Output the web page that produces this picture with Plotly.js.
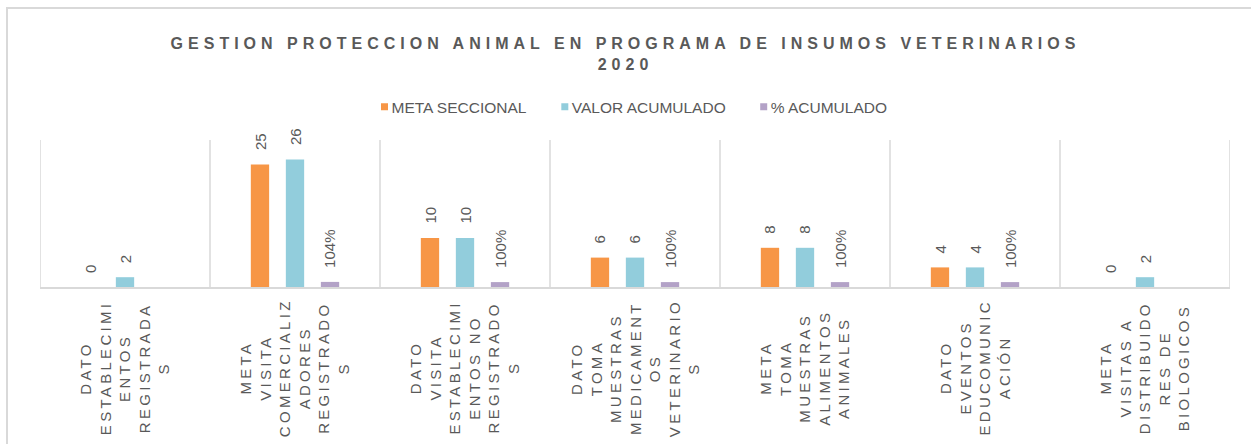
<!DOCTYPE html>
<html>
<head>
<meta charset="utf-8">
<script src="https://cdn.plot.ly/plotly-3.0.1.min.js"></script>
<style>
html,body{margin:0;padding:0;background:#fff;}
#wrap{position:relative;width:1251px;height:444px;overflow:hidden;}
#chart{position:absolute;left:0;top:0;width:1251px;height:444px;}
#frame{position:absolute;left:6px;top:7px;width:1400px;height:600px;border-top:2px solid #D9D9D9;border-left:2px solid #D9D9D9;pointer-events:none;}
.gtitle{letter-spacing:5px;}
.annotation[data-index="0"] text,.annotation[data-index="1"] text,.annotation[data-index="2"] text,
.annotation[data-index="3"] text,.annotation[data-index="4"] text,.annotation[data-index="5"] text,
.annotation[data-index="6"] text{letter-spacing:3.3px;}
</style>
</head>
<body>
<div id="wrap"><div id="chart"></div><div id="frame"></div></div>
<script>
// ---- data ----
var categories = [
  "DATO<br>ESTABLECIMI<br>ENTOS<br>REGISTRADA<br>S",
  "META<br>VISITA<br>COMERCIALIZ<br>ADORES<br>REGISTRADO<br>S",
  "DATO<br>VISITA<br>ESTABLECIMI<br>ENTOS NO<br>REGISTRADO<br>S",
  "DATO<br>TOMA<br>MUESTRAS<br>MEDICAMENT<br>OS<br>VETERINARIO<br>S",
  "META<br>TOMA<br>MUESTRAS<br>ALIMENTOS<br>ANIMALES",
  "DATO<br>EVENTOS<br>EDUCOMUNIC<br>ACIÓN",
  "META<br>VISITAS A<br>DISTRIBUIDO<br>RES DE<br>BIOLOGICOS"
];
var metaSeccional = [0, 25, 10, 6, 8, 4, 0];
var valorAcumulado = [2, 26, 10, 6, 8, 4, 2];
var pctAcumulado = [null, 1.04, 1.00, 1.00, 1.00, 1.00, null];
var pctLabels = ["", "104%", "100%", "100%", "100%", "100%", ""];
var seriesNames = ["META SECCIONAL", "VALOR ACUMULADO", "% ACUMULADO"];

// ---- style ----
var colors = ["#F79646", "#92CDDC", "#B3A2C7"];
var textColor = "#595959";
var gridColor = "#D9D9D9";
var fontFam = 'Arial, "Liberation Sans", sans-serif';
var slot = 35 / 170;

var idx = categories.map(function (c, i) { return i; });

var traces = [metaSeccional, valorAcumulado, pctAcumulado].map(function (vals, s) {
  return {
    type: "bar",
    name: seriesNames[s],
    x: idx,
    y: vals,
    marker: { color: colors[s] },
    hoverinfo: "skip"
  };
});

var annotations = [];
// category labels first (indices 0..6, letter-spaced by CSS)
categories.forEach(function (c, i) {
  annotations.push({
    xref: "x", yref: "paper", x: i, y: -0.551,
    xanchor: "center", yanchor: "middle",
    text: c, showarrow: false, textangle: -90, align: "center",
    font: { family: fontFam, size: 15, color: textColor }
  });
});
// data labels
var labelSets = [
  metaSeccional.map(String),
  valorAcumulado.map(String),
  pctLabels
];
[metaSeccional, valorAcumulado, pctAcumulado].forEach(function (vals, s) {
  vals.forEach(function (v, i) {
    if (v === null) return;
    annotations.push({
      xref: "x", yref: "y", x: i + (s - 1) * slot, y: v,
      xanchor: "center", yanchor: "bottom", yshift: 12,
      text: labelSets[s][i], showarrow: false, textangle: -90,
      font: { family: fontFam, size: 15, color: textColor }
    });
  });
});

var layout = {
  width: 1251, height: 444,
  margin: { l: 40, r: 21, t: 140, b: 157 },
  paper_bgcolor: "#ffffff", plot_bgcolor: "#ffffff",
  font: { family: fontFam, color: textColor },
  title: {
    text: "GESTION PROTECCION ANIMAL EN PROGRAMA DE INSUMOS VETERINARIOS<br>2020",
    font: { family: fontFam, size: 16, color: textColor, weight: 700 },
    x: 0.5, xanchor: "center", xref: "container",
    y: 0.89, yanchor: "top", yref: "container"
  },
  showlegend: true,
  legend: {
    orientation: "h", x: 0.5, xanchor: "center", y: 1.224, yanchor: "middle",
    font: { family: fontFam, size: 15.5, color: textColor },
    bgcolor: "rgba(0,0,0,0)"
  },
  barmode: "group",
  bargap: 0.382,
  bargroupgap: 0.477,
  xaxis: {
    type: "linear", range: [-0.5, 6.5],
    tickvals: idx, ticktext: categories,
    showticklabels: false, ticks: "",
    showgrid: false, zeroline: false,
    showline: true, linecolor: gridColor, linewidth: 1.5
  },
  yaxis: {
    range: [0, 30], showticklabels: false, ticks: "",
    showgrid: false, zeroline: false,
    showline: false
  },
  shapes: idx.concat([idx.length]).map(function (i) {
    return {
      type: "line", xref: "x", yref: "paper",
      x0: i - 0.5, x1: i - 0.5, y0: 0, y1: 1,
      line: { color: gridColor, width: 1.5 }, layer: "below"
    };
  }),
  annotations: annotations
};

Plotly.newPlot("chart", traces, layout, { displayModeBar: false, staticPlot: true }).then(function () {
  document.querySelectorAll("#chart .legend .legendpoints path").forEach(function (p) {
    p.setAttribute("d", "M3.5,3.5H-3.5V-3.5H3.5Z");
  });
  document.querySelectorAll("#chart .legend .legendtext").forEach(function (t) {
    var x = parseFloat(t.getAttribute("x")) || 40;
    t.setAttribute("x", x - 13);
  });
});
</script>
</body>
</html>
